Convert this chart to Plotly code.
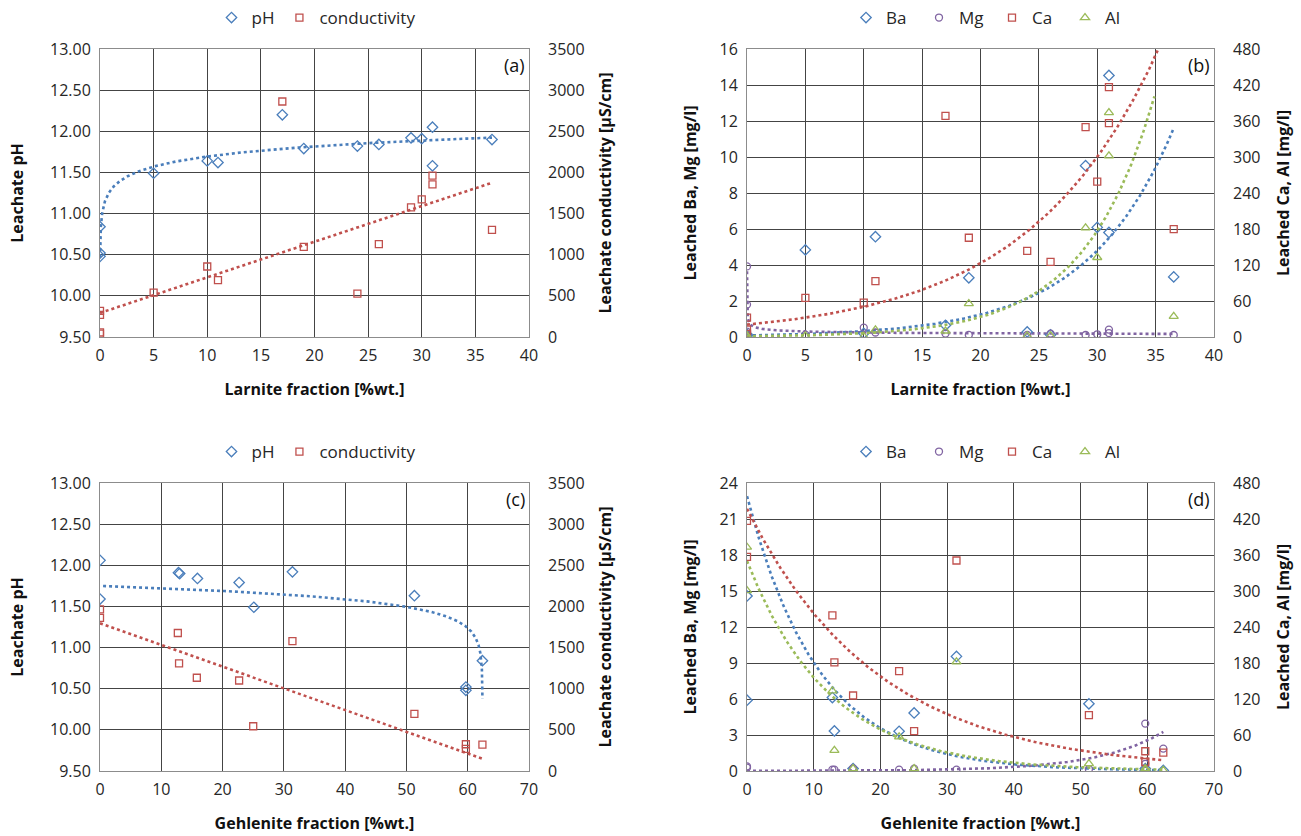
import numpy as np
import plotly.graph_objects as go

# ---------------- DATA ----------------
# (a) vs Larnite fraction
a_ph_x = [0, 0, 0, 5, 10, 11, 17, 19, 24, 26, 29, 30, 31, 31, 36.55]
a_ph = [10.84, 10.52, 10.48, 11.49, 11.64, 11.62, 12.20, 11.79, 11.82, 11.84, 11.92, 11.91, 12.05, 11.58, 11.90]
a_cond_x = [0, 0, 0, 0, 5, 10, 11, 17, 19, 24, 26, 29, 30, 31, 31, 36.55]
a_cond = [317, 268, 57, 41, 540, 857, 690, 2862, 1096, 528, 1129, 1575, 1673, 1961, 1855, 1303]

# (b) vs Larnite fraction
b_x = [0, 0, 0, 5, 10, 11, 17, 19, 24, 26, 29, 30, 31, 31, 36.55]
b_ba = [0.15, 0.05, 0.10, 4.84, 0.20, 5.57, 0.65, 3.29, 0.28, 0.12, 9.52, 6.09, 14.53, 5.81, 3.34]
b_mg = [3.92, 1.80, 0.30, 0.13, 0.52, 0.25, 0.19, 0.12, 0.12, 0.19, 0.11, 0.15, 0.41, 0.22, 0.11]
b_ca = [32.3, 12.2, 5.0, 65.1, 57.3, 93.0, 368.6, 165.4, 143.7, 125.3, 349.7, 258.9, 416.5, 356.3, 179.8]
b_al = [2.0, 1.0, 1.0, 2.0, 1.0, 12.0, 10.0, 55.7, 2.0, 2.0, 182.0, 132.5, 374.0, 301.8, 34.5]

# (c) vs Gehlenite fraction
c_ph_x = [0, 0, 12.8, 13, 15.9, 22.7, 25.1, 31.4, 51.3, 59.7, 59.7, 62.4]
c_ph = [12.06, 11.59, 11.91, 11.90, 11.84, 11.79, 11.49, 11.92, 11.63, 10.52, 10.48, 10.84]
c_cond_x = [0, 0, 12.7, 12.9, 15.8, 22.7, 25.0, 31.4, 51.3, 59.7, 59.7, 62.4]
c_cond = [1965, 1860, 1677, 1307, 1133, 1100, 544, 1579, 694, 325, 268, 321]

# (d) vs Gehlenite fraction
d_x = [0, 0, 12.8, 13.1, 15.9, 22.8, 25.05, 31.4, 51.25, 59.7, 59.7, 62.4]
d_ba = [14.59, 5.90, 6.12, 3.34, 0.20, 3.31, 4.84, 9.55, 5.60, 0.20, 0.05, 0.05]
d_mg = [0.39, 0.28, 0.11, 0.11, 0.22, 0.11, 0.19, 0.11, 0.15, 3.95, 0.60, 1.87]
d_ca = [417, 357, 259.5, 181, 125.8, 166.5, 66.3, 350.8, 93, 32.9, 15, 30.6]
d_al = [373, 300.7, 133.6, 34.5, 4, 56.8, 4, 182, 12.2, 4, 2, 1]

# Trendline coefficients as shown in the chart: (kind, p1, p2, x_start, x_end[, x0])
#   lin: y = p1*x + p2 ; log: y = p1*ln(x) + p2 ; logr: y = p1*ln(x0 - x) + p2
#   exp: y = p1*exp(p2*x) ; pow: y = p1*x**p2
trend_a_ph = ("log", 0.177, 11.286, 0.01, 36.55)
trend_a_cond = ("lin", 43.3, 292.0, 0.0, 36.55)
trend_b_ba = ("exp", 0.0838, 0.1349, 0.0, 36.55)
trend_b_mg = ("pow", 0.486, -0.292, 0.001, 36.55)
trend_b_ca = ("exp", 20.6, 0.0893, 0.0, 36.55)
trend_b_al = ("exp", 1.18, 0.167, 0.0, 34.9)
trend_c_ph = ("logr", 0.157, 11.10, 0.5, 62.40, 62.41)
trend_c_cond = ("lin", -26.36, 1795.0, 0.0, 62.4)
trend_d_ba = ("exp", 22.9, -0.093, 0.0, 62.4)
trend_d_mg = ("exp", 0.0056, 0.102, 0.0, 62.4)
trend_d_ca = ("exp", 437.0, -0.051, 0.0, 62.4)
trend_d_al = ("exp", 350.0, -0.081, 0.0, 62.4)

# ---------------- STYLE ----------------
BLUE = "#4A7EBB"
PURPLE = "#8064A2"
RED = "#C0504D"
GREEN = "#9BBB59"
GRID = "#444444"
FRAME = "#8c8c8c"
FONT = "Open Sans"
TXT = "#262626"

SYMBOL_SIZE = {"diamond-open": 8, "square-open": 7, "circle-open": 7, "triangle-up-open": 8}


def trend_xy(t):
    kind = t[0]
    if kind == "lin":
        xs = np.linspace(t[3], t[4], 200)
        return xs, t[1] * xs + t[2]
    if kind == "log":
        xs = np.geomspace(t[3], t[4], 500)
        return xs, t[1] * np.log(xs) + t[2]
    if kind == "logr":
        x0 = t[5]
        d = np.geomspace(x0 - t[3], x0 - t[4], 500)
        return x0 - d, t[1] * np.log(d) + t[2]
    if kind == "exp":
        xs = np.linspace(t[3], t[4], 300)
        return xs, t[1] * np.exp(t[2] * xs)
    if kind == "pow":
        xs = np.geomspace(t[3], t[4], 500)
        return xs, t[1] * xs ** t[2]


fig = go.Figure()


def pts(x, y, name, color, symbol, xa, ya, legend):
    fig.add_trace(go.Scatter(
        x=x, y=y, mode="markers", name=name, xaxis=xa, yaxis=ya,
        legend=legend, showlegend=True,
        marker=dict(symbol=symbol, size=SYMBOL_SIZE[symbol], color=color,
                    line=dict(color=color, width=1.3))))


def trend(t, color, xa, ya):
    xs, ys = trend_xy(t)
    fig.add_trace(go.Scatter(
        x=xs, y=ys, mode="lines", xaxis=xa, yaxis=ya, showlegend=False,
        line=dict(color=color, width=2.6, dash="dot"), hoverinfo="skip"))


# (a)
trend(trend_a_ph, BLUE, "x", "y")
trend(trend_a_cond, RED, "x", "y2")
pts(a_ph_x, a_ph, "pH", BLUE, "diamond-open", "x", "y", "legend")
pts(a_cond_x, a_cond, "conductivity", RED, "square-open", "x", "y2", "legend")

# (b)
trend(trend_b_ba, BLUE, "x2", "y3")
trend(trend_b_mg, PURPLE, "x2", "y3")
trend(trend_b_ca, RED, "x2", "y4")
trend(trend_b_al, GREEN, "x2", "y4")
pts(b_x, b_ba, "Ba", BLUE, "diamond-open", "x2", "y3", "legend2")
pts(b_x, b_mg, "Mg", PURPLE, "circle-open", "x2", "y3", "legend2")
pts(b_x, b_ca, "Ca", RED, "square-open", "x2", "y4", "legend2")
pts(b_x, b_al, "Al", GREEN, "triangle-up-open", "x2", "y4", "legend2")

# (c)
trend(trend_c_ph, BLUE, "x3", "y5")
trend(trend_c_cond, RED, "x3", "y6")
pts(c_ph_x, c_ph, "pH", BLUE, "diamond-open", "x3", "y5", "legend3")
pts(c_cond_x, c_cond, "conductivity", RED, "square-open", "x3", "y6", "legend3")

# (d)
trend(trend_d_ba, BLUE, "x4", "y7")
trend(trend_d_mg, PURPLE, "x4", "y7")
trend(trend_d_ca, RED, "x4", "y8")
trend(trend_d_al, GREEN, "x4", "y8")
pts(d_x, d_ba, "Ba", BLUE, "diamond-open", "x4", "y7", "legend4")
pts(d_x, d_mg, "Mg", PURPLE, "circle-open", "x4", "y7", "legend4")
pts(d_x, d_ca, "Ca", RED, "square-open", "x4", "y8", "legend4")
pts(d_x, d_al, "Al", GREEN, "triangle-up-open", "x4", "y8", "legend4")

W, H = 1301, 836


def dx(a, b):
    return [a / W, b / W]


def dy(top, bot):
    return [1 - bot / H, 1 - top / H]


LEFT_A = dx(100, 529)
RIGHT_B = dx(747, 1214)
TOP = dy(49, 337)
BOT = dy(483, 771)

tickfont = dict(family=FONT, size=16, color=TXT)
titlefont = dict(family=FONT, size=16, color="#111111", weight="bold")


def xax(domain, anchor, rng, dtick, title):
    return dict(domain=domain, anchor=anchor, range=rng, dtick=dtick, tick0=0,
                showgrid=True, gridcolor=GRID, gridwidth=1,
                showline=True, linecolor=FRAME, linewidth=1, mirror=True,
                zeroline=False, ticks="", tickfont=tickfont, automargin=False,
                ticklabelstandoff=4,
                title=dict(text=title, font=titlefont, standoff=18))


def yleft(domain, anchor, rng, dtick, title, standoff, fmt=None):
    d = dict(domain=domain, anchor=anchor, range=rng, dtick=dtick, tick0=rng[0],
             showgrid=True, gridcolor=GRID, gridwidth=1,
             showline=True, linecolor=FRAME, linewidth=1, mirror=True,
             zeroline=False, ticks="", tickfont=tickfont, automargin=False,
             ticklabelstandoff=5,
             title=dict(text=title, font=titlefont, standoff=standoff))
    if fmt:
        d["tickformat"] = fmt
    return d


def yright(domain, anchor, overlay, rng, dtick, title, standoff):
    return dict(domain=domain, anchor=anchor, overlaying=overlay, side="right",
                range=rng, dtick=dtick, tick0=0, showgrid=False, zeroline=False,
                showline=False, ticks="", tickfont=tickfont, automargin=False,
                ticklabelstandoff=18,
                title=dict(text=title, font=titlefont, standoff=standoff))


fig.update_layout(
    width=W, height=H, margin=dict(l=0, r=0, t=0, b=0, autoexpand=False),
    paper_bgcolor="white", plot_bgcolor="white",
    font=dict(family=FONT, size=16, color=TXT),
    xaxis=xax(LEFT_A, "y", [0, 40], 5, "Larnite fraction [%wt.]"),
    yaxis=yleft(TOP, "x", [9.5, 13.0], 0.5, "Leachate pH", 22, ".2f"),
    yaxis2=yright(TOP, "x", "y", [0, 3500], 500, "Leachate conductivity [μS/cm]", 16),
    xaxis2=xax(RIGHT_B, "y3", [0, 40], 5, "Larnite fraction [%wt.]"),
    yaxis3=yleft(TOP, "x2", [0, 16], 2, "Leached Ba, Mg [mg/l]", 18),
    yaxis4=yright(TOP, "x2", "y3", [0, 480], 60, "Leached Ca, Al [mg/l]", 18),
    xaxis3=xax(LEFT_A, "y5", [0, 70], 10, "Gehlenite fraction [%wt.]"),
    yaxis5=yleft(BOT, "x3", [9.5, 13.0], 0.5, "Leachate pH", 22, ".2f"),
    yaxis6=yright(BOT, "x3", "y5", [0, 3500], 500, "Leachate conductivity [μS/cm]", 16),
    xaxis4=xax(RIGHT_B, "y7", [0, 70], 10, "Gehlenite fraction [%wt.]"),
    yaxis7=yleft(BOT, "x4", [0, 24], 3, "Leached Ba, Mg [mg/l]", 18),
    yaxis8=yright(BOT, "x4", "y7", [0, 480], 60, "Leached Ca, Al [mg/l]", 18),
)

legfont = dict(family=FONT, size=17, color=TXT)


def leg(xc, ytop, entrywidth=None):
    d = dict(orientation="h", x=xc / W, xanchor="center", y=1 - ytop / H, yanchor="top",
             font=legfont, bgcolor="rgba(0,0,0,0)", itemsizing="trace",
             traceorder="normal", itemwidth=30, tracegroupgap=0)
    if entrywidth:
        d["entrywidth"] = entrywidth
        d["entrywidthmode"] = "pixels"
    return d


fig.update_layout(legend=leg(316, 0), legend2=leg(992, 0, 28),
                  legend3=leg(316, 434), legend4=leg(992, 434, 28))

for txt, xr, ytop in [("(a)", 529, 49), ("(b)", 1214, 49), ("(c)", 529, 483), ("(d)", 1214, 483)]:
    fig.add_annotation(text=txt, xref="paper", yref="paper", x=(xr - 2) / W, y=1 - (ytop + 2) / H,
                       xanchor="right", yanchor="top", showarrow=False,
                       font=dict(family=FONT, size=18, color="#111111"))

fig.write_html("out.html", config={"displayModeBar": False},
               post_script="document.body.style.margin='0';")
